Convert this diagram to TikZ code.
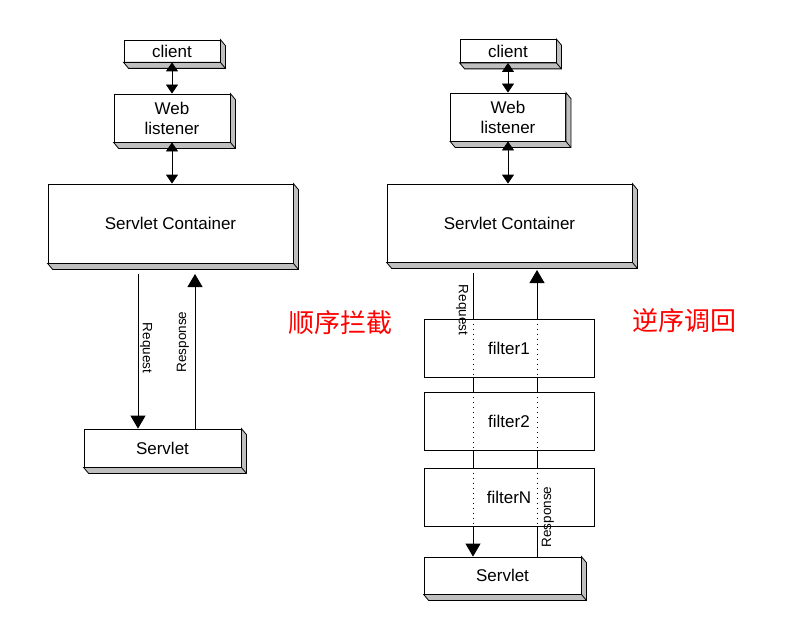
\documentclass[tikz,border=0pt]{standalone}
\usepackage{fontspec}
\setmainfont{Liberation Sans}
\newfontfamily\cjk{Noto Sans CJK SC}
\usetikzlibrary{arrows.meta}

% grey slab under the right and bottom edge of a box
\newcommand{\slab}[1]{%
  \filldraw[fill=black!25] (#1.north east) -- ++(5,6) -- ([shift={(5,6)}]#1.south east)
    -- ([shift={(5,6)}]#1.south west) -- (#1.south west) -- (#1.south east) -- cycle;
  \draw ([shift={(5,6)}]#1.south east) -- (#1.south east);}

\begin{document}
\begin{tikzpicture}[x=1pt,y=-1pt,line width=0.8pt,
  box/.style={draw,fill=white,inner sep=0pt,align=center,font=\fontsize{17}{20}\selectfont},
  lbl/.style={inner sep=0pt,font=\fontsize{13.5}{15}\selectfont},
  tag/.style={text=red,font=\cjk\fontsize{26}{30}\selectfont},
  dbl/.style={{Triangle[length=9pt,width=12pt]}-{Triangle[length=9pt,width=12pt]}},
  one/.style={-{Triangle[length=13pt,width=15pt]}}]
  \useasboundingbox (0,0) rectangle (793,626);

  % left: plain chain
  \node[box,minimum width=96,minimum height=22] (lcli) at (172,51) {client};
  \node[box,minimum width=116,minimum height=48] (lweb) at (172,118) {Web\\listener};
  \node[box,minimum width=245,minimum height=79] (lcon) at (170.5,223.5) {Servlet Container};
  \node[box,minimum width=157,minimum height=38] (lsrv) at (162.5,448) {Servlet};
  \foreach \n in {lcli,lweb,lcon,lsrv} {\slab{\n}}
  \path[dbl]
  (lcli) edge (lweb)
  (lweb.south) edge (lweb.south |- lcon.north);
  \coordinate (lreq) at (138,274);
  \coordinate (lres) at (195,274);
  \path[one]
  (lreq) edge (lreq |- lsrv.north)
  (lres |- lsrv.north) edge (lres);
  \node[lbl,rotate=-90] (lreqt) at (146,348) {Request};
  \node[lbl,rotate=90] (lrest) at (183,342) {Response};
  \node[tag] (ltag) at (340,323) {顺序拦截};

  % right: chain with filters
  \node[box,minimum width=96,minimum height=23] (rcli) at (508,51) {client};
  \node[box,minimum width=115,minimum height=48] (rweb) at (508,117) {Web\\listener};
  \node[box,minimum width=245,minimum height=78] (rcon) at (509.5,223) {Servlet Container};
  \node[box,minimum width=157,minimum height=37] (rsrv) at (502.5,575.5) {Servlet};
  \foreach \n in {rcli,rweb,rcon,rsrv} {\slab{\n}}
  \path[dbl]
  (rcli) edge (rweb)
  (rweb.south) edge (rweb.south |- rcon.north);
  \coordinate (rreq) at (473,273);
  \coordinate (rres) at (537,270);
  \path[one]
  (rreq) edge (rreq |- rsrv.north)
  (rres |- rsrv.north) edge (rres);
  \foreach \n/\t/\y in {f1/filter1/348,f2/filter2/421.5,fN/filterN/497}
    \node[box,minimum width=170,minimum height=58] (\n) at (509,\y) {\t};
  \foreach \n in {f1,f2,fN}
    \draw[dash pattern=on 1pt off 4pt] (rreq |- \n.north) -- (rreq |- \n.south)
      (rres |- \n.north) -- (rres |- \n.south);
  \node[lbl,rotate=-90] (rreqt) at (462,310) {Request};
  \node[lbl,rotate=90] (rrest) at (548,517) {Response};
  \node[tag] (rtag) at (684,321) {逆序调回};
\end{tikzpicture}
\end{document}
